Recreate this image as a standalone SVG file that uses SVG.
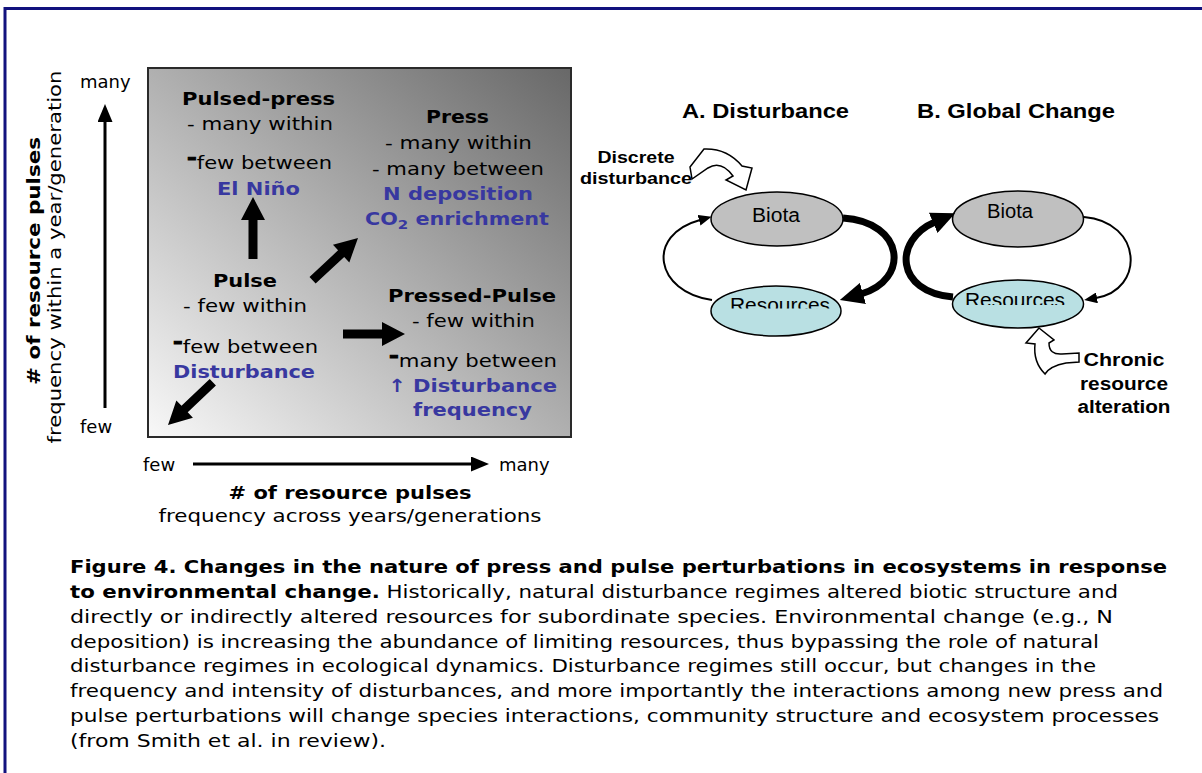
<svg xmlns="http://www.w3.org/2000/svg" width="1202" height="773" viewBox="0 0 1202 773">
<style>
.v{font-family:"DejaVu Sans",Verdana,sans-serif;font-size:18px;fill:#000}
.vb{font-family:"DejaVu Sans",Verdana,sans-serif;font-size:18px;font-weight:bold;fill:#000}
.blue{fill:#3838a0}
.dash{font-weight:bold;font-size:20px;stroke:#000;stroke-width:1}
.a{font-family:"Liberation Sans",Arial,sans-serif;font-size:20px;fill:#000}
.ab{font-family:"Liberation Sans",Arial,sans-serif;font-weight:bold;fill:#000}
.thin{fill:none;stroke:#000;stroke-width:2}
.thick{fill:none;stroke:#000;stroke-width:7}
.ax{fill:none;stroke:#000;stroke-width:3}
.hollow{fill:#fff;stroke:#000;stroke-width:1.5;stroke-linejoin:miter}
.biota{fill:#c0c0c0;stroke:#000;stroke-width:1.5}
.res{fill:#b9e0e3;stroke:#000;stroke-width:1.5}
</style>
<defs>
<linearGradient id="bg" x1="0" y1="1" x2="1" y2="0">
<stop offset="0" stop-color="#f8f8f8"/>
<stop offset="1" stop-color="#686868"/>
</linearGradient>
<path id="blk" d="M0,0 L-23,-12 L-23,-4.5 L-62,-4.5 L-62,4.5 L-23,4.5 L-23,12 Z"/>
<marker id="hS" markerUnits="userSpaceOnUse" markerWidth="13" markerHeight="11" viewBox="0 0 13 11" refX="1" refY="5.5" orient="auto"><path d="M0,0 L13,5.5 L0,11 Z"/></marker>
<marker id="hL" markerUnits="userSpaceOnUse" markerWidth="24" markerHeight="22" viewBox="0 0 24 22" refX="2" refY="11" orient="auto"><path d="M0,0 L24,11 L0,22 Z"/></marker>
<marker id="hA" markerUnits="userSpaceOnUse" markerWidth="18" markerHeight="15" viewBox="0 0 18 15" refX="1" refY="7.5" orient="auto"><path d="M0,0 L18,7.5 L0,15 Z"/></marker>
<clipPath id="cA"><rect x="700" y="280" width="160" height="28.5"/></clipPath>
<clipPath id="cB"><rect x="940" y="275" width="160" height="30"/></clipPath>
</defs>

<rect x="0" y="0" width="1202" height="773" fill="#fff"/>
<g id="frame">
<path d="M5,773 L5,8.5 L1202,8.5" fill="none" stroke="#12127e" stroke-width="3"/>
</g>

<g id="plot">
<rect x="148" y="68" width="423" height="369" fill="url(#bg)" stroke="#2a2a2a" stroke-width="2"/>
</g>

<g id="axes">
<line class="ax" x1="105" y1="408" x2="105" y2="121" marker-end="url(#hA)"/>
<line class="ax" x1="193" y1="464" x2="472" y2="464" marker-end="url(#hA)"/>
<text class="v" x="80" y="88">many</text>
<text class="v" x="80" y="433">few</text>
<text class="vb" transform="translate(40,261) rotate(-90)" text-anchor="middle" textLength="248" lengthAdjust="spacingAndGlyphs"># of resource pulses</text>
<text class="v" transform="translate(61,257) rotate(-90)" text-anchor="middle" textLength="373" lengthAdjust="spacingAndGlyphs">frequency within a year/generation</text>
<text class="v" x="143" y="471">few</text>
<text class="v" x="499" y="471">many</text>
<text class="vb" x="350" y="499" text-anchor="middle" textLength="243" lengthAdjust="spacingAndGlyphs"># of resource pulses</text>
<text class="v" x="350" y="522" text-anchor="middle" textLength="383" lengthAdjust="spacingAndGlyphs">frequency across years/generations</text>
</g>

<g id="node-pulsed-press">
<text class="vb" x="182" y="105" textLength="153" lengthAdjust="spacingAndGlyphs">Pulsed-press</text>
<text class="v" x="187" y="130" textLength="146" lengthAdjust="spacingAndGlyphs">- many within</text>
<text class="v" x="187" y="169" textLength="145" lengthAdjust="spacingAndGlyphs"><tspan class="dash" dy="-5">-</tspan><tspan dy="5">few between</tspan></text>
<text class="vb blue" x="217" y="195" textLength="83" lengthAdjust="spacingAndGlyphs">El Niño</text>
</g>

<g id="node-press">
<text class="vb" x="426" y="123" textLength="63" lengthAdjust="spacingAndGlyphs">Press</text>
<text class="v" x="385" y="149" textLength="147" lengthAdjust="spacingAndGlyphs">- many within</text>
<text class="v" x="372" y="175" textLength="172" lengthAdjust="spacingAndGlyphs">- many between</text>
<text class="vb blue" x="383" y="200" textLength="150" lengthAdjust="spacingAndGlyphs">N deposition</text>
<text class="vb blue" x="365" y="225" textLength="184" lengthAdjust="spacingAndGlyphs">CO<tspan font-size="13" dy="4">2</tspan><tspan dy="-4"> enrichment</tspan></text>
</g>

<g id="node-pulse">
<text class="vb" x="213" y="287" textLength="64" lengthAdjust="spacingAndGlyphs">Pulse</text>
<text class="v" x="183" y="312" textLength="124" lengthAdjust="spacingAndGlyphs">- few within</text>
<text class="v" x="173" y="353" textLength="145" lengthAdjust="spacingAndGlyphs"><tspan class="dash" dy="-5">-</tspan><tspan dy="5">few between</tspan></text>
<text class="vb blue" x="173" y="378" textLength="142" lengthAdjust="spacingAndGlyphs">Disturbance</text>
</g>

<g id="node-pressed-pulse">
<text class="vb" x="388" y="302" textLength="168" lengthAdjust="spacingAndGlyphs">Pressed-Pulse</text>
<text class="v" x="412" y="327" textLength="123" lengthAdjust="spacingAndGlyphs">- few within</text>
<text class="v" x="389" y="367" textLength="168" lengthAdjust="spacingAndGlyphs"><tspan class="dash" dy="-5">-</tspan><tspan dy="5">many between</tspan></text>
<text class="vb blue" x="388" y="392" textLength="169" lengthAdjust="spacingAndGlyphs">↑ Disturbance</text>
<text class="vb blue" x="413" y="416" textLength="119" lengthAdjust="spacingAndGlyphs">frequency</text>
</g>

<g id="shift-arrows">
<use href="#blk" transform="translate(253,197) rotate(-90)"/>
<use href="#blk" transform="translate(358,238) rotate(-42.9)"/>
<use href="#blk" transform="translate(405,334)"/>
<use href="#blk" transform="translate(168,425) rotate(136.3)"/>
</g>

<g id="title-a">
<text class="ab" x="682" y="118" font-size="21" textLength="167" lengthAdjust="spacingAndGlyphs">A. Disturbance</text>
</g>
<g id="title-b">
<text class="ab" x="917" y="118" font-size="21" textLength="198" lengthAdjust="spacingAndGlyphs">B. Global Change</text>
</g>

<g id="node-a-biota">
<ellipse class="biota" cx="777" cy="219" rx="66" ry="27"/>
<text class="a" x="776" y="222" text-anchor="middle" textLength="48" lengthAdjust="spacingAndGlyphs">Biota</text>
</g>
<g id="node-a-resources">
<ellipse class="res" cx="776" cy="311" rx="65" ry="25"/>
<text class="a" x="780" y="312" text-anchor="middle" textLength="100" lengthAdjust="spacingAndGlyphs" clip-path="url(#cA)">Resources</text>
</g>
<g id="node-b-biota">
<ellipse class="biota" cx="1018" cy="219" rx="65.5" ry="28"/>
<text class="a" x="1010" y="218" text-anchor="middle" textLength="46" lengthAdjust="spacingAndGlyphs">Biota</text>
</g>
<g id="node-b-resources">
<ellipse class="res" cx="1018" cy="304" rx="65.5" ry="24"/>
<text class="a" x="1015" y="307" text-anchor="middle" textLength="100" lengthAdjust="spacingAndGlyphs" clip-path="url(#cB)">Resources</text>
</g>

<g id="node-discrete">
<text class="ab" font-size="16" x="636" y="163" text-anchor="middle" textLength="77" lengthAdjust="spacingAndGlyphs">Discrete</text>
<text class="ab" font-size="16" x="636" y="184" text-anchor="middle" textLength="112" lengthAdjust="spacingAndGlyphs">disturbance</text>
</g>
<g id="node-chronic">
<text class="ab" font-size="18" x="1124" y="366" text-anchor="middle" textLength="81" lengthAdjust="spacingAndGlyphs">Chronic</text>
<text class="ab" font-size="18" x="1124" y="390" text-anchor="middle" textLength="88" lengthAdjust="spacingAndGlyphs">resource</text>
<text class="ab" font-size="18" x="1124" y="413" text-anchor="middle" textLength="93" lengthAdjust="spacingAndGlyphs">alteration</text>
</g>

<g id="connectors">
<path class="thin" d="M712,300 C655,292 645,235 700,220" marker-end="url(#hS)"/>
<path class="thick" d="M843,218 C905,222 910,280 861,294" marker-end="url(#hL)"/>
<path class="thick" d="M953,297 C895,292 893,240 935,222" marker-end="url(#hL)"/>
<path class="thin" d="M1084,217 C1143,222 1145,290 1096,298" marker-end="url(#hS)"/>
<path class="hollow" d="M690,167 L704,149 Q727,148 742,166 L752,168 L746,190 L726,180 L733,176 Q721,160 708,168 L692,179 Z"/>
<path class="hollow" d="M1039,328 L1054,340 L1049,343 Q1049,355 1062,354 L1079,353 L1079,362 L1066,363 Q1050,366 1045,374 Q1033,362 1035,344 L1026,343 Z"/>
</g>

<g id="caption">
<text class="vb" x="70" y="573" textLength="1097" lengthAdjust="spacingAndGlyphs">Figure 4. Changes in the nature of press and pulse perturbations in ecosystems in response</text>
<text class="v" x="70" y="598" textLength="1048" lengthAdjust="spacingAndGlyphs"><tspan font-weight="bold">to environmental change.</tspan> Historically, natural disturbance regimes altered biotic structure and</text>
<text class="v" x="70" y="623" textLength="1043" lengthAdjust="spacingAndGlyphs">directly or indirectly altered resources for subordinate species. Environmental change (e.g., N</text>
<text class="v" x="70" y="648" textLength="1029" lengthAdjust="spacingAndGlyphs">deposition) is increasing the abundance of limiting resources, thus bypassing the role of natural</text>
<text class="v" x="70" y="672" textLength="1026" lengthAdjust="spacingAndGlyphs">disturbance regimes in ecological dynamics. Disturbance regimes still occur, but changes in the</text>
<text class="v" x="70" y="697" textLength="1093" lengthAdjust="spacingAndGlyphs">frequency and intensity of disturbances, and more importantly the interactions among new press and</text>
<text class="v" x="70" y="722" textLength="1089" lengthAdjust="spacingAndGlyphs">pulse perturbations will change species interactions, community structure and ecosystem processes</text>
<text class="v" x="70" y="747" textLength="316" lengthAdjust="spacingAndGlyphs">(from Smith et al. in review).</text>
</g>
</svg>
